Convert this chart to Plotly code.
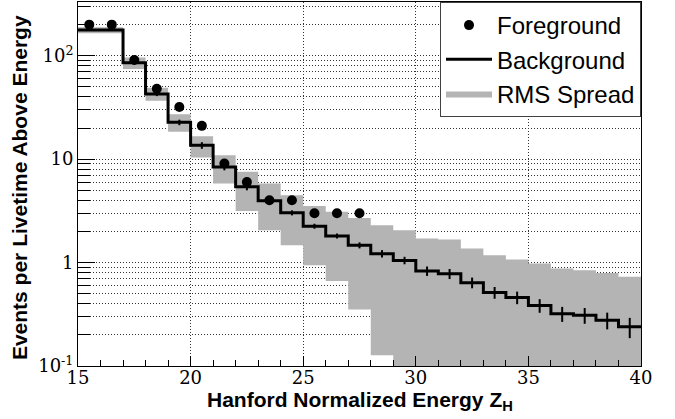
import plotly.graph_objects as go

# bin edges of the cumulative spectrum (Hanford normalized energy)
edges = list(range(15, 41))

# background: events per livetime above energy, one value per bin
bkg = [178, 178, 85.7, 42.7, 22.7, 13.6, 8.4, 5.4, 3.96, 3.03, 2.25, 1.81, 1.47,
       1.22, 1.05, 0.83, 0.78, 0.64, 0.514, 0.46, 0.385, 0.32, 0.31, 0.277, 0.239]
bkg_err = [4, 4, 2.8, 2, 1.4, 1, 0.6, 0.4, 0.25, 0.17, 0.126, 0.10, 0.098,
           0.10, 0.087, 0.087, 0.087, 0.076, 0.067, 0.064, 0.058, 0.053, 0.054, 0.051, 0.053]

# RMS spread band around the background
rms_hi = [189, 189, 96, 49, 27.2, 16.7, 10.9, 7.55, 5.83, 4.49, 3.52, 3.1, 2.7,
          2.3, 2.06, 1.71, 1.67, 1.37, 1.18, 1.07, 0.98, 0.877, 0.843, 0.794, 0.728]
rms_lo = [165, 165, 74.5, 36.7, 18.4, 10.4, 5.83, 3.15, 2.06, 1.47, 0.945, 0.665, 0.352,
          0.127, 0.01, 0.01, 0.01, 0.01, 0.01, 0.01, 0.01, 0.01, 0.01, 0.01, 0.01]

# foreground (data) points at bin centres
fg = [200, 200, 91, 48, 32, 21, 9.1, 6, 4, 4, 3, 3, 3]

y_major = [0.1, 1, 10, 100]
y_major_text = ["10<sup>-1</sup>", "1", "10", "10<sup>2</sup>"]
y_minor = [m * d for d in (0.1, 1, 10) for m in range(2, 10)] + [200, 300]
x_major = [15, 20, 25, 30, 35, 40]

centers = [e + 0.5 for e in edges[:-1]]
fg_x = centers[:len(fg)]


def steps(vals):
    # repeat last value so the 'hv' step reaches the final edge
    return vals + [vals[-1]]


GRAY = "#b4b4b4"
SERIF = "DejaVu Serif"
SANS = "Liberation Sans, Arial, sans-serif"

fig = go.Figure()

fig.add_trace(go.Scatter(
    x=edges, y=steps(rms_lo), mode="lines", line=dict(width=0, shape="hv"),
    showlegend=False, hoverinfo="skip",
))
fig.add_trace(go.Scatter(
    x=edges, y=steps(rms_hi), mode="lines", line=dict(width=0, shape="hv"),
    fill="tonexty", fillcolor=GRAY, name="RMS Spread", legendrank=3,
))
fig.add_trace(go.Scatter(
    x=edges, y=steps(bkg), mode="lines", line=dict(color="black", width=3, shape="hv"),
    name="Background", legendrank=2,
))
fig.add_trace(go.Scatter(
    x=centers, y=bkg, mode="markers", marker=dict(size=1, color="black"),
    error_y=dict(type="data", array=bkg_err, width=0, thickness=2, color="black"),
    showlegend=False,
))
fig.add_trace(go.Scatter(
    x=fg_x, y=fg, mode="markers", marker=dict(size=10, color="black"),
    name="Foreground", legendrank=1,
))

grid = dict(showgrid=True, gridcolor="#333333", gridwidth=1, griddash="1px,2px")

fig.update_layout(
    width=675, height=419,
    margin=dict(l=78, r=34, t=2, b=53),
    plot_bgcolor="white", paper_bgcolor="white",
    font=dict(family=SANS, size=21, color="black"),
    xaxis=dict(
        range=[15, 40], tickvals=x_major, ticks="inside", ticklen=10,
        tickfont=dict(family=SERIF, size=18, color="black"), ticklabelstandoff=-5,
        tickcolor="black", showline=True, linecolor="black", linewidth=1, mirror=True,
        zeroline=False, minor=dict(dtick=1, ticks="inside", ticklen=6, tickcolor="black"),
        **grid,
    ),
    yaxis=dict(
        type="log", range=[-1, 2.52], tickvals=y_major, ticktext=y_major_text,
        tickfont=dict(family=SERIF, size=18, color="black"),
        ticks="inside", ticklen=17, tickcolor="black", showline=True, linecolor="black",
        linewidth=1, mirror=True, zeroline=False,
        minor=dict(tickvals=y_minor, ticks="inside", ticklen=12, tickcolor="black", **grid),
        **grid,
    ),
    legend=dict(
        x=1, xanchor="right", y=1, yanchor="top", bgcolor="white",
        bordercolor="#404040", borderwidth=1, itemwidth=46, traceorder="normal",
        font=dict(family=SANS, size=24, color="black"),
    ),
    annotations=[
        dict(text="Hanford Normalized Energy Z<sub>H</sub>", xref="paper", yref="paper",
             x=0.5, y=-0.055, xanchor="center", yanchor="top", showarrow=False,
             font=dict(family=SANS, size=21, color="black", weight="bold")),
        dict(text="Events per Livetime Above Energy", xref="paper", yref="paper",
             x=-0.104, y=0.49, xanchor="center", yanchor="middle", textangle=-90,
             showarrow=False,
             font=dict(family=SANS, size=21, color="black", weight="bold")),
    ],
)

fig.write_html("out.html", config={"displayModeBar": False},
               post_script="document.body.style.margin='0px';")
